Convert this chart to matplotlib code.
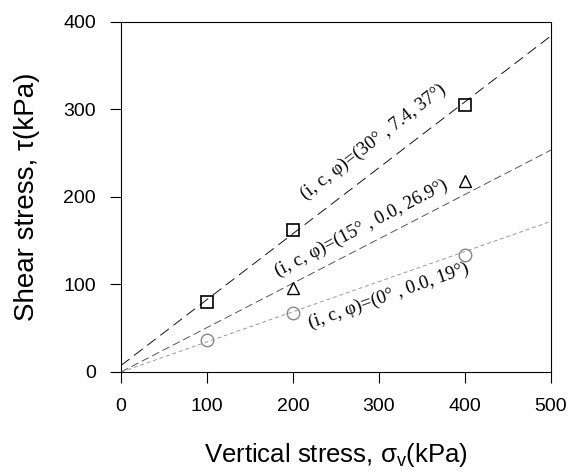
import numpy as np
import matplotlib.pyplot as plt

plt.rcParams['font.family'] = ['Liberation Sans', 'DejaVu Sans']
plt.rcParams['mathtext.fontset'] = 'custom'
plt.rcParams['mathtext.rm'] = 'Liberation Sans'

# measured points
sigma_sq = [100, 200, 400]
tau_sq = [80, 162, 305]
sigma_tri = [200, 400]
tau_tri = [96, 218]
sigma_cir = [100, 200, 400]
tau_cir = [36, 67, 134]

# failure envelopes: (i, c, phi)
i_deg = [30, 15, 0]
c_kpa = [7.4, 0.0, 0.0]
phi_deg = [37, 26.9, 19]
labels = ['(i, c, φ)=(30° , 7.4, 37°)',
          '(i, c, φ)=(15° , 0.0, 26.9°)',
          '(i, c, φ)=(0° , 0.0, 19°)']
label_x = [293, 279, 311]
label_dy = [35, 23, -20]

line_colors = ['#111111', '#555555', '#999999']
line_dashes = [(11, 6), (8, 4), (4, 3)]

fig, ax = plt.subplots(figsize=(5.77, 4.72), dpi=100)
fig.subplots_adjust(left=0.2097, right=0.955, bottom=0.2119, top=0.9534)

xs = np.array([0, 500])
for k in range(3):
    slope = np.tan(np.radians(phi_deg[k]))
    ax.plot(xs, c_kpa[k] + slope * xs, color=line_colors[k], lw=0.7,
            dashes=line_dashes[k], zorder=1)
    ang = np.degrees(np.arctan(slope))
    xt = label_x[k]
    yt = c_kpa[k] + slope * xt + label_dy[k]
    ax.text(xt, yt, labels[k], rotation=ang, transform_rotates_text=True,
            rotation_mode='anchor', ha='center', va='center',
            family='Liberation Serif', fontsize=13.5)

ax.plot(sigma_sq, tau_sq, 's', mfc='none', mec='black', ms=8, mew=1.2, zorder=3)
ax.plot(sigma_tri, tau_tri, '^', mfc='none', mec='black', ms=8, mew=1.0, zorder=3)
ax.plot(sigma_cir, tau_cir, 'o', mfc='none', mec='#888888', ms=9, mew=1.0, zorder=3)

ax.set_xlim(0, 500)
ax.set_ylim(0, 400)
ax.set_xticks(np.arange(0, 501, 100))
ax.set_yticks(np.arange(0, 401, 100))
ax.tick_params(direction='out', length=8, labelsize=14)
ax.tick_params(axis='x', pad=11)
ax.tick_params(axis='y', pad=10)
ax.set_xlabel(r'Vertical stress, σ$_{\rm v}$(kPa)', fontsize=18.5)
ax.set_ylabel('Shear stress, τ(kPa)', fontsize=20)
ax.xaxis.set_label_coords(0.5, -0.237)
ax.xaxis.label.set_va('center')
ax.yaxis.set_label_coords(-0.219, 0.5)
ax.yaxis.label.set_va('center')

plt.savefig('out.png', dpi=100)
